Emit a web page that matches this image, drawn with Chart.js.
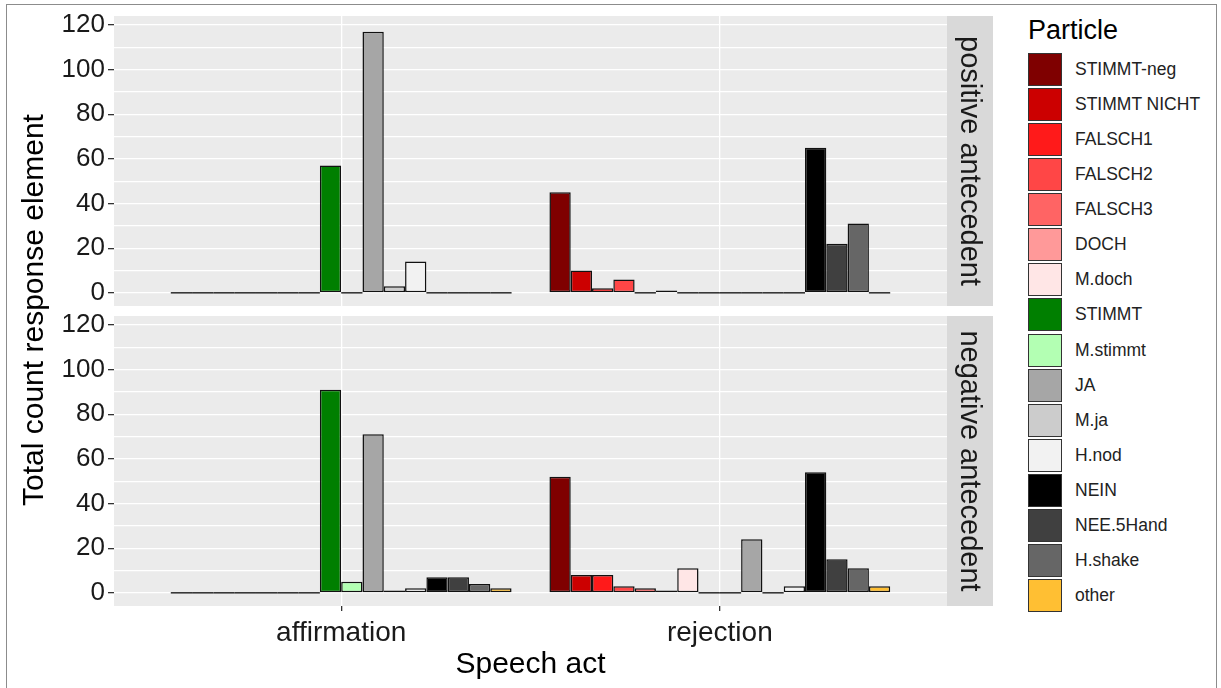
<!DOCTYPE html>
<html>
<head>
<title>Particle by speech act</title>
<script src="https://cdn.jsdelivr.net/npm/chart.js"></script>
<style>
  body { margin: 0; background: #fff; font-family: "Liberation Sans", Arial, sans-serif; }
  #wrap { position: relative; width: 1221px; height: 688px; overflow: hidden; }
  #frame { position: absolute; left: 6px; top: 4px; width: 1211px; height: 720px; border: 1.5px solid #8c8c8c; box-sizing: border-box; }
  canvas { position: absolute; left: 0; }
  #ytitle { position: absolute; left: -267px; top: 292px; width: 600px; height: 36px; line-height: 36px;
            text-align: center; font-size: 30px; color: #000; transform: rotate(-90deg); }
  #legend { position: absolute; left: 1028px; top: 12px; }
  #legend .title { font-size: 27px; color: #000; height: 40px; line-height: 36px; }
  #legend .item { height: 35.07px; display: flex; align-items: center; }
  #legend .key { width: 32px; height: 31px; border: 1.3px solid #333; }
  #legend .lbl { margin-left: 13px; font-size: 17.5px; color: #222; }
</style>
</head>
<body>
<div id="wrap">
  <div id="frame"></div>
  <canvas id="top" width="1000" height="310" style="top:0"></canvas>
  <canvas id="bottom" width="1000" height="378" style="top:310px"></canvas>
  <div id="ytitle">Total count response element</div>
  <div id="legend"></div>
</div>
<script>
const speechActs = ['affirmation', 'rejection'];
const particles = ['STIMMT-neg', 'STIMMT NICHT', 'FALSCH1', 'FALSCH2', 'FALSCH3', 'DOCH', 'M.doch',
                   'STIMMT', 'M.stimmt', 'JA', 'M.ja', 'H.nod', 'NEIN', 'NEE.5Hand', 'H.shake', 'other'];
const particleColors = ['#7f0000', '#cc0000', '#ff1a1a', '#ff4646', '#ff6464', '#ff9999', '#ffe6e6',
                        '#007f00', '#b3ffb3', '#a6a6a6', '#cccccc', '#f2f2f2', '#000000', '#404040', '#666666', '#ffbf33'];
// counts per particle: [affirmation, rejection]
const positiveCounts = [[0, 45], [0, 10], [0, 2], [0, 6], [0, 0], [0, 1], [0, 0],
                        [57, 0], [0, 0], [117, 0], [3, 0], [14, 0], [0, 65], [0, 22], [0, 31], [0, 0]];
const negativeCounts = [[0, 52], [0, 8], [0, 8], [0, 3], [0, 2], [0, 1], [0, 11],
                        [91, 0], [5, 0], [71, 24], [1, 0], [2, 3], [7, 54], [7, 15], [4, 11], [2, 3]];
const yTickLabels = [0, 20, 40, 60, 80, 100, 120];
const yMinorLines = [10, 30, 50, 70, 90, 110];

const panelPlugin = {
  id: 'panel',
  beforeDraw(chart) {
    const a = chart.chartArea, ctx = chart.ctx;
    ctx.save();
    ctx.fillStyle = '#ebebeb';
    ctx.fillRect(a.left, a.top, a.right - a.left, a.bottom - a.top);
    ctx.restore();
  },
  beforeDatasetsDraw(chart) {
    // ggplot draws zero counts as a flat outline
    const ctx = chart.ctx;
    ctx.save();
    ctx.strokeStyle = '#1a1a1a';
    ctx.lineWidth = 1.4;
    chart.data.datasets.forEach((ds, d) => {
      chart.getDatasetMeta(d).data.forEach((bar, i) => {
        if (ds.data[i].y !== 0) return;
        const p = bar.getProps(['x', 'width', 'base'], true);
        ctx.beginPath();
        ctx.moveTo(p.x - p.width / 2, p.base);
        ctx.lineTo(p.x + p.width / 2, p.base);
        ctx.stroke();
      });
    });
    ctx.restore();
  },
  afterDraw(chart, args, opts) {
    const a = chart.chartArea, ctx = chart.ctx;
    ctx.save();
    ctx.fillStyle = '#d9d9d9';
    ctx.fillRect(a.right, a.top, 46, a.bottom - a.top);
    ctx.translate(a.right + 23, (a.top + a.bottom) / 2);
    ctx.rotate(Math.PI / 2);
    ctx.fillStyle = '#1a1a1a';
    ctx.font = '29px "Liberation Sans", Arial, sans-serif';
    ctx.textAlign = 'center';
    ctx.textBaseline = 'middle';
    ctx.fillText(opts.text, 0, 1);
    ctx.restore();
  }
};

function panelChart(id, counts, stripText, isBottom) {
  const datasets = particles.map((name, p) => ({
    label: name,
    data: speechActs.map((act, i) => ({ x: i + 1, y: counts[p][i] })),
    backgroundColor: particleColors[p],
    borderColor: '#111',
    borderWidth: 1.5,
    borderSkipped: false,
    categoryPercentage: 0.9,
    barPercentage: 1.0
  }));
  return new Chart(document.getElementById(id), {
    type: 'bar',
    data: { datasets },
    options: {
      responsive: false,
      animation: false,
      devicePixelRatio: 1,
      layout: { padding: { top: isBottom ? 6 : 16, right: 53, bottom: isBottom ? 0 : 4, left: 0 } },
      plugins: { legend: { display: false }, tooltip: { enabled: false }, panel: { text: stripText } },
      scales: {
        x: {
          type: 'linear', min: 0.4, max: 2.6, offset: false,
          afterBuildTicks: s => { s.ticks = speechActs.map((a, i) => ({ value: i + 1 })); },
          afterFit: s => { s.height = isBottom ? 82 : 0; s.paddingLeft = 0; s.paddingRight = 0; },
          grid: { color: '#fff', lineWidth: 1.3, offset: false, drawTicks: isBottom, tickLength: 5,
                  tickColor: '#333', tickWidth: 1.3 },
          border: { display: false },
          ticks: { display: isBottom, autoSkip: false, maxRotation: 0, padding: 5,
                   callback: (v, i) => speechActs[i], font: { size: 28 }, color: '#1a1a1a' },
          title: { display: isBottom, text: 'Speech act', font: { size: 30 }, color: '#000',
                   padding: { top: 0, bottom: 5 } }
        },
        y: {
          min: -5.9, max: 124,
          afterBuildTicks: s => {
            s.ticks = yTickLabels.concat(yMinorLines).sort((a, b) => a - b).map(v => ({ value: v }));
          },
          afterFit: s => { s.width = 114; s.paddingTop = 0; s.paddingBottom = 0; },
          grid: { color: '#fff', lineWidth: 1.3, tickLength: 6, tickWidth: 1.3,
                  tickColor: c => (c.tick && yTickLabels.includes(c.tick.value)) ? '#333' : 'rgba(0,0,0,0)' },
          border: { display: false },
          ticks: { autoSkip: false, padding: 3, font: { size: 26 }, color: '#1a1a1a',
                   callback: v => yTickLabels.includes(v) ? String(v) : '' }
        }
      }
    },
    plugins: [panelPlugin]
  });
}

Chart.defaults.font.family = '"Liberation Sans", Arial, sans-serif';
panelChart('top', positiveCounts, 'positive antecedent', false);
panelChart('bottom', negativeCounts, 'negative antecedent', true);

const legend = document.getElementById('legend');
legend.innerHTML = '<div class="title">Particle</div>' + particles.map((name, p) =>
  `<div class="item"><div class="key" style="background:${particleColors[p]}"></div><div class="lbl">${name}</div></div>`
).join('');
</script>
</body>
</html>
